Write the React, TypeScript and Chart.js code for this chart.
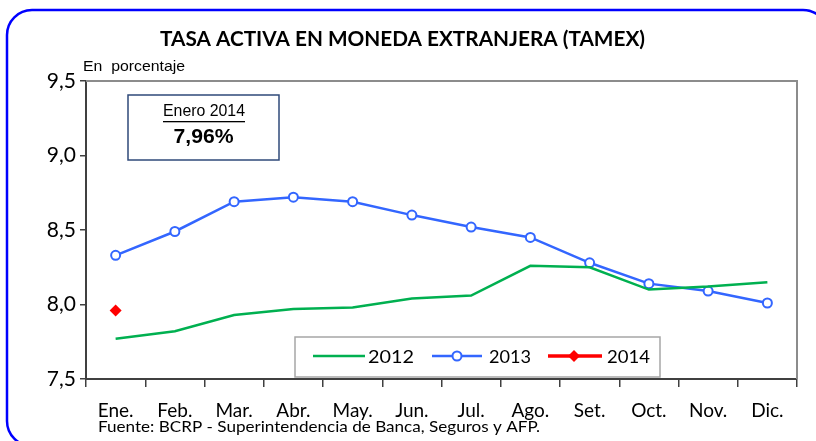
import React, { useEffect, useRef } from "react";
import { Chart, registerables } from "chart.js";

Chart.register(...registerables);

const months = ["Ene.", "Feb.", "Mar.", "Abr.", "May.", "Jun.", "Jul.", "Ago.", "Set.", "Oct.", "Nov.", "Dic."];
const serie2012 = [7.77, 7.82, 7.93, 7.97, 7.98, 8.04, 8.06, 8.26, 8.25, 8.10, 8.12, 8.15];
const serie2013 = [8.33, 8.49, 8.69, 8.72, 8.69, 8.60, 8.52, 8.45, 8.28, 8.14, 8.09, 8.01];
const serie2014 = [7.96, null, null, null, null, null, null, null, null, null, null, null];
const yTicks = [7.5, 8.0, 8.5, 9.0, 9.5];

const GREEN = "#00b050";
const BLUE = "#3366ff";
const RED = "#ff0000";
const CAL = 'Lato, "Open Sans", sans-serif';
const ARIAL = '"Liberation Sans", Arial, sans-serif';

function fitText(ctx: any, text: string, x: number, y: number, font: string, width: number, align: string) {
  ctx.save();
  ctx.font = font;
  ctx.textAlign = "left";
  ctx.textBaseline = "middle";
  const w = ctx.measureText(text).width;
  const s = width / w;
  let left = x;
  if (align === "center") left = x - width / 2;
  ctx.translate(left, y);
  ctx.scale(s, 1);
  ctx.fillText(text, 0, 0);
  ctx.restore();
}

const decor = {
  id: "decor",
  beforeDraw(chart: any) {
    const ctx = chart.ctx;
    ctx.save();
    ctx.fillStyle = "#ffffff";
    ctx.fillRect(0, 0, chart.width, chart.height);
    // rounded blue frame
    const x = 7, y = 10, w = 821, h = 436, r = 25;
    ctx.beginPath();
    ctx.moveTo(x + r, y);
    ctx.lineTo(x + w - r, y);
    ctx.arcTo(x + w, y, x + w, y + r, r);
    ctx.lineTo(x + w, y + h - r);
    ctx.arcTo(x + w, y + h, x + w - r, y + h, r);
    ctx.lineTo(x + r, y + h);
    ctx.arcTo(x, y + h, x, y + h - r, r);
    ctx.lineTo(x, y + r);
    ctx.arcTo(x, y, x + r, y, r);
    ctx.closePath();
    ctx.strokeStyle = "#0000ff";
    ctx.lineWidth = 2.5;
    ctx.stroke();
    ctx.fillStyle = "#000000";
    fitText(ctx, "TASA ACTIVA EN MONEDA EXTRANJERA (TAMEX)", 160, 40, "bold 20px " + CAL, 485, "left");
    fitText(ctx, "En  porcentaje", 83, 67, "15px " + ARIAL, 102, "left");
    fitText(ctx, "Fuente: BCRP - Superintendencia de Banca, Seguros y AFP.", 98, 427, "15px " + CAL, 442, "left");
    ctx.restore();
  },
  afterDatasetsDraw(chart: any) {
    const ctx = chart.ctx;
    const a = chart.chartArea;
    ctx.save();
    // top and right border
    ctx.strokeStyle = "#8c8c8c";
    ctx.lineWidth = 2;
    ctx.beginPath();
    ctx.moveTo(a.left, a.top);
    ctx.lineTo(a.right, a.top);
    ctx.lineTo(a.right, a.bottom);
    ctx.stroke();
    // annotation box
    ctx.fillStyle = "#ffffff";
    ctx.fillRect(128, 95, 151, 65);
    ctx.strokeStyle = "#2f4a7a";
    ctx.lineWidth = 1.5;
    ctx.strokeRect(128, 95, 151, 65);
    ctx.fillStyle = "#000000";
    fitText(ctx, "Enero 2014", 204, 112, "16px " + ARIAL, 82, "center");
    ctx.fillRect(163, 121, 82, 1.3);
    fitText(ctx, "7,96%", 203.5, 137, "bold 21px " + ARIAL, 60, "center");
    // legend
    ctx.fillStyle = "#ffffff";
    ctx.fillRect(295, 337, 365, 40);
    ctx.strokeStyle = "#a6a6a6";
    ctx.lineWidth = 1.5;
    ctx.strokeRect(295, 337, 365, 40);
    const ly = 356;
    ctx.lineWidth = 2.5;
    ctx.strokeStyle = GREEN;
    ctx.beginPath(); ctx.moveTo(313, ly); ctx.lineTo(365, ly); ctx.stroke();
    ctx.strokeStyle = BLUE;
    ctx.beginPath(); ctx.moveTo(432, ly); ctx.lineTo(482, ly); ctx.stroke();
    ctx.beginPath(); ctx.arc(457, ly, 4.5, 0, Math.PI * 2);
    ctx.fillStyle = "#ffffff"; ctx.fill(); ctx.lineWidth = 2; ctx.stroke();
    ctx.strokeStyle = RED; ctx.lineWidth = 3.5;
    ctx.beginPath(); ctx.moveTo(548, ly); ctx.lineTo(602, ly); ctx.stroke();
    ctx.fillStyle = RED;
    ctx.beginPath();
    ctx.moveTo(574, ly - 6); ctx.lineTo(580, ly); ctx.lineTo(574, ly + 6); ctx.lineTo(568, ly);
    ctx.closePath(); ctx.fill();
    ctx.fillStyle = "#000000";
    fitText(ctx, "2012", 368, ly + 1, "18px " + CAL, 46, "left");
    fitText(ctx, "2013", 489, ly + 1, "18px " + CAL, 42, "left");
    fitText(ctx, "2014", 607, ly + 1, "18px " + CAL, 43, "left");
    ctx.restore();
  },
};

export default function App() {
  const ref = useRef<HTMLCanvasElement | null>(null);
  useEffect(() => {
    document.body.style.margin = "0";
    const chart = new Chart(ref.current as HTMLCanvasElement, {
      type: "line",
      data: {
        labels: months,
        datasets: [
          {
            label: "2012",
            data: serie2012,
            borderColor: GREEN,
            backgroundColor: GREEN,
            borderWidth: 2.5,
            pointRadius: 0,
            tension: 0,
          },
          {
            label: "2013",
            data: serie2013,
            borderColor: BLUE,
            backgroundColor: "#ffffff",
            borderWidth: 2.5,
            pointRadius: 4.5,
            pointBorderWidth: 2,
            pointBackgroundColor: "#ffffff",
            pointBorderColor: BLUE,
            tension: 0,
          },
          {
            label: "2014",
            data: serie2014,
            borderColor: RED,
            backgroundColor: RED,
            borderWidth: 3,
            pointStyle: "rectRot",
            pointRadius: 6,
            pointBackgroundColor: RED,
            pointBorderColor: RED,
            pointBorderWidth: 0,
          },
        ],
      },
      options: {
        animation: false,
        responsive: false,
        layout: { padding: { top: 81, right: 19, left: 0, bottom: 0 } },
        plugins: { legend: { display: false }, tooltip: { enabled: false }, title: { display: false } },
        scales: {
          x: {
            offset: true,
            grid: { offset: true, drawOnChartArea: false, drawTicks: true, tickLength: 8, color: "#404040", lineWidth: 1.5 },
            border: { color: "#404040", width: 2 },
            ticks: { color: "#000000", font: { family: CAL, size: 19 }, padding: 12, maxRotation: 0, autoSkip: false },
            afterFit(s: any) { s.height = 62; },
          },
          y: {
            min: 7.5,
            max: 9.5,
            afterBuildTicks(s: any) { s.ticks = yTicks.map((v) => ({ value: v })); },
            grid: { drawOnChartArea: false, drawTicks: true, tickLength: 6, color: "#404040", lineWidth: 1.5 },
            border: { color: "#404040", width: 2 },
            ticks: {
              color: "#000000",
              font: { family: CAL, size: 21 },
              padding: 4,
              callback: (v: any) => Number(v).toFixed(1).replace(".", ","),
            },
            afterFit(s: any) { s.width = 86; },
          },
        },
      },
      plugins: [decor],
    });
    return () => chart.destroy();
  }, []);
  return <canvas ref={ref} width={816} height={441} style={{ display: "block", width: 816, height: 441 }} />;
}
